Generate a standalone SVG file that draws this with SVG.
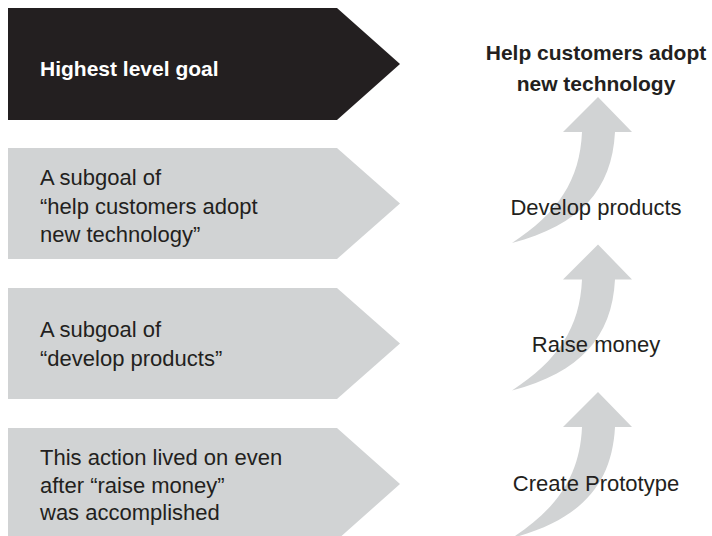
<svg xmlns="http://www.w3.org/2000/svg" width="712" height="536" viewBox="0 0 712 536">
<style>
.box{fill:#d1d3d4}
.top{fill:#231f20}
.t{font-family:"Liberation Sans",Arial,Helvetica,sans-serif;font-size:22px;fill:#231f20}
.tw{font-family:"Liberation Sans",Arial,Helvetica,sans-serif;font-size:21px;font-weight:bold;fill:#ffffff}
.tb{font-family:"Liberation Sans",Arial,Helvetica,sans-serif;font-size:21px;font-weight:bold;fill:#231f20}
.lbl{text-anchor:middle}
.arr{fill:#d1d3d4}
</style>
<defs>
<path id="curvedArrow" d="M598 97 L632 132 L615 132 C612 190 580 225 512 243 C558 213 580 180 582 132 L563 132 Z"/>
</defs>
<rect width="712" height="536" fill="#ffffff"/>
<g id="goal-highest">
<polygon class="top" points="8,8 337,8 400,64 337,120 8,120"/>
<text class="tw" x="40" y="76">Highest level goal</text>
</g>
<g id="goal-subgoal-1">
<polygon class="box" points="8,148 337,148 400,203.5 337,259 8,259"/>
<text class="t" x="40" y="185">A subgoal of</text>
<text class="t" x="40" y="213.5">“help customers adopt</text>
<text class="t" x="40" y="242">new technology”</text>
</g>
<g id="goal-subgoal-2">
<polygon class="box" points="8,288 337,288 400,343.5 337,399 8,399"/>
<text class="t" x="40" y="337">A subgoal of</text>
<text class="t" x="40" y="366">“develop products”</text>
</g>
<g id="goal-action">
<polygon class="box" points="8,428 337,428 400,484 337,540 8,540"/>
<text class="t" x="40" y="465">This action lived on even</text>
<text class="t" x="40" y="492.5">after “raise money”</text>
<text class="t" x="40" y="520">was accomplished</text>
</g>
<g id="connectors">
<use href="#curvedArrow" class="arr"/>
<use href="#curvedArrow" class="arr" transform="translate(0,147.5)"/>
<use href="#curvedArrow" class="arr" transform="translate(0,295)"/>
</g>
<g id="node-help-customers">
<text class="tb lbl" x="596" y="60">Help customers adopt</text>
<text class="tb lbl" x="596" y="91">new technology</text>
</g>
<g id="node-develop-products">
<text class="t lbl" x="596" y="215">Develop products</text>
</g>
<g id="node-raise-money">
<text class="t lbl" x="596" y="352">Raise money</text>
</g>
<g id="node-create-prototype">
<text class="t lbl" x="596" y="491">Create Prototype</text>
</g>
</svg>
